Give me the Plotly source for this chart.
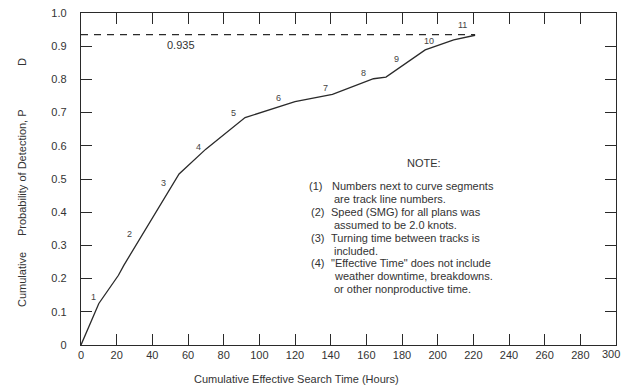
import plotly.graph_objects as go

# ---- data ----
search_hours = [0, 10, 21, 24, 55, 70, 92, 120, 141, 164, 171, 193, 209, 221]
pod = [0, 0.125, 0.21, 0.24, 0.515, 0.59, 0.685, 0.733, 0.755, 0.802, 0.807, 0.889, 0.919, 0.933]

track_numbers = ["1", "2", "3", "4", "5", "6", "7", "8", "9", "10", "11"]
track_label_x = [7, 27, 46.5, 66, 85.5, 110.5, 137, 158.5, 177, 195, 214]
track_label_y = [0.146, 0.334, 0.487, 0.597, 0.70, 0.743, 0.775, 0.82, 0.86, 0.917, 0.963]

max_pod = 0.935
max_pod_label = "0.935"
max_pod_x_end = 221

x_ticks = list(range(0, 301, 20))
x_last_tick = 300
y_ticks = [0, 0.1, 0.2, 0.3, 0.4, 0.5, 0.6, 0.7, 0.8, 0.9, 1.0]
y_ticktext = ["0", "0.1", "0.2", "0.3", "0.4", "0.5", "0.6", "0.7", "0.8", "0.9", "1.0"]

note_title = "NOTE:"
note_nums = ["(1)", "", "(2)", "", "(3)", "", "(4)", "", ""]
note_lines = [
    "Numbers next to curve segments",
    "are track line numbers.",
    "Speed (SMG) for all plans was",
    "assumed to be 2.0 knots.",
    "Turning time between tracks is",
    "included.",
    "\"Effective Time\" does not include",
    "weather downtime, breakdowns.",
    "or other nonproductive time.",
]

x_title = "Cumulative Effective Search Time (Hours)"
y_title_parts = ["Cumulative", "Probability of Detection, P", "D"]

# ---- layout constants (pixels) ----
W, H = 624, 388
ML, MR, MT, MB = 81, 8, 13, 43
PW, PH = W - ML - MR, H - MT - MB
FONT = "Liberation Sans, Arial, sans-serif"
INK = "#2a2a2a"
TXT = "#333333"


def px(xp):
    return (xp - ML) / PW


def py(yp):
    return (H - MB - yp) / PH


fig = go.Figure()

fig.add_trace(go.Scatter(
    x=search_hours, y=pod, mode="lines",
    line=dict(color=INK, width=1.3), hoverinfo="skip", showlegend=False,
))

fig.add_trace(go.Scatter(
    x=[0, max_pod_x_end], y=[max_pod, max_pod], mode="lines",
    line=dict(color=INK, width=1.1, dash="7px,6px"), hoverinfo="skip", showlegend=False,
))

annotations = []
for t, x, y in zip(track_numbers, track_label_x, track_label_y):
    annotations.append(dict(x=x, y=y, xref="x", yref="y", text=t, showarrow=False,
                            xanchor="center", yanchor="middle",
                            font=dict(family=FONT, size=9, color="#444")))

annotations.append(dict(x=56, y=0.904, xref="x", yref="y", text=max_pod_label, showarrow=False,
                        xanchor="center", yanchor="middle",
                        font=dict(family=FONT, size=11, color=TXT)))

# last x tick label, kept just inside the right page edge
annotations.append(dict(x=x_last_tick, y=py(354), xref="x", yref="paper", text=str(x_last_tick),
                        showarrow=False, xanchor="right", yanchor="middle", xshift=6,
                        font=dict(family=FONT, size=11, color=TXT)))

# NOTE block
annotations.append(dict(x=px(405), y=py(163), xref="paper", yref="paper", text=note_title,
                        showarrow=False, xanchor="left", yanchor="middle",
                        font=dict(family=FONT, size=11, color=TXT)))
line_y0, line_dy = 186, 12.9
for i, (n, s) in enumerate(zip(note_nums, note_lines)):
    yy = py(line_y0 + i * line_dy)
    if n:
        annotations.append(dict(x=px(307 if i == 0 else 309), y=yy, xref="paper", yref="paper", text=n,
                                showarrow=False, xanchor="left", yanchor="middle",
                                font=dict(family=FONT, size=11, color=TXT)))
    annotations.append(dict(x=px(330 if i == 0 else 329), y=yy, xref="paper", yref="paper", text=s,
                            showarrow=False, xanchor="left", yanchor="middle",
                            xshift=0 if n else 3,
                            font=dict(family=FONT, size=11, color=TXT)))

# axis titles
annotations.append(dict(x=px(296), y=py(379), xref="paper", yref="paper", text=x_title,
                        showarrow=False, xanchor="center", yanchor="middle",
                        font=dict(family=FONT, size=11, color=TXT)))
for part, ycen in zip(y_title_parts, [280, 173, 62]):
    annotations.append(dict(x=px(22), y=py(ycen), xref="paper", yref="paper", text=part,
                            showarrow=False, textangle=-90, xanchor="center", yanchor="middle",
                            font=dict(family=FONT, size=11, color=TXT)))

fig.update_layout(
    width=W, height=H,
    margin=dict(l=ML, r=MR, t=MT, b=MB, pad=0),
    paper_bgcolor="white", plot_bgcolor="white",
    font=dict(family=FONT, size=11, color=TXT),
    annotations=annotations,
    xaxis=dict(range=[0, 300], tickvals=x_ticks, ticks="inside", ticklen=11, tickwidth=1.1,
               tickcolor=INK, showline=True, linecolor=INK, linewidth=1.3, mirror="ticks",
               showgrid=False, zeroline=False, ticklabelstandoff=0,
               tickfont=dict(family=FONT, size=11, color=TXT)),
    yaxis=dict(range=[0, 1.0], tickvals=y_ticks, ticktext=y_ticktext, ticks="inside", ticklen=11,
               tickwidth=1.1, tickcolor=INK, showline=True, linecolor=INK, linewidth=1.3,
               mirror="ticks", showgrid=False, zeroline=False, ticklabelstandoff=11,
               tickfont=dict(family=FONT, size=11, color=TXT)),
)

fig.write_html("out.html")
